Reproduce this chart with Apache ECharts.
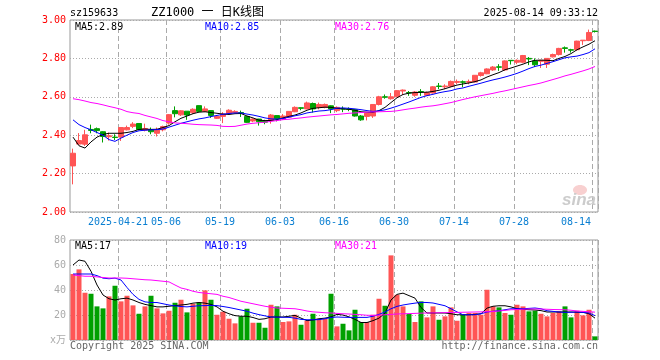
<!DOCTYPE html>
<html><head><meta charset="utf-8">
<script src="https://cdn.jsdelivr.net/npm/echarts@6/dist/echarts.min.js"></script>
<style>html,body{margin:0;padding:0;background:#fff}#c{width:660px;height:360px}</style>
</head><body><div id="c"></div>
<script>
const dates = ["2025-04-09","2025-04-10","2025-04-11","2025-04-14","2025-04-15","2025-04-16","2025-04-17","2025-04-18","2025-04-21","2025-04-22","2025-04-23","2025-04-24","2025-04-25","2025-04-28","2025-04-29","2025-04-30",
"2025-05-06","2025-05-07","2025-05-08","2025-05-09","2025-05-12","2025-05-13","2025-05-14","2025-05-15","2025-05-16","2025-05-19","2025-05-20","2025-05-21","2025-05-22","2025-05-23","2025-05-26","2025-05-27","2025-05-28","2025-05-29","2025-05-30",
"2025-06-03","2025-06-04","2025-06-05","2025-06-06","2025-06-09","2025-06-10","2025-06-11","2025-06-12","2025-06-13","2025-06-16","2025-06-17","2025-06-18","2025-06-19","2025-06-20","2025-06-23","2025-06-24","2025-06-25","2025-06-26","2025-06-27","2025-06-30",
"2025-07-01","2025-07-02","2025-07-03","2025-07-04","2025-07-07","2025-07-08","2025-07-09","2025-07-10","2025-07-11","2025-07-14","2025-07-15","2025-07-16","2025-07-17","2025-07-18","2025-07-21","2025-07-22","2025-07-23","2025-07-24","2025-07-25","2025-07-28","2025-07-29","2025-07-30","2025-07-31",
"2025-08-01","2025-08-04","2025-08-05","2025-08-06","2025-08-07","2025-08-08","2025-08-11","2025-08-12","2025-08-13","2025-08-14"];

const tickIdx = [8,16,25,35,44,54,64,74,87];
const tickText = ["2025-04-21","05-06","05-19","06-03","06-16","06-30","07-14","07-28","08-14"];

const open = [2.24,2.354,2.353,2.43,2.434,2.418,2.392,2.39,2.39,2.428,2.446,2.461,2.426,2.43,2.41,2.428,
2.463,2.528,2.506,2.525,2.517,2.554,2.524,2.528,2.488,2.498,2.512,2.517,2.518,2.498,2.474,2.484,2.473,2.477,2.502,
2.485,2.494,2.522,2.543,2.537,2.565,2.545,2.545,2.553,2.528,2.538,2.537,2.533,2.5,2.498,2.5,2.56,2.6,2.59,2.6,
2.63,2.622,2.608,2.627,2.608,2.62,2.656,2.652,2.655,2.675,2.678,2.676,2.677,2.711,2.72,2.74,2.756,2.74,2.79,2.78,2.78,2.8,2.787,
2.785,2.77,2.808,2.82,2.855,2.845,2.845,2.892,2.893,2.942];
const close = [2.306,2.372,2.402,2.425,2.424,2.393,2.397,2.388,2.44,2.44,2.458,2.43,2.435,2.418,2.428,2.445,
2.507,2.512,2.527,2.505,2.535,2.524,2.537,2.503,2.498,2.51,2.53,2.524,2.514,2.467,2.484,2.47,2.468,2.505,2.486,
2.5,2.524,2.545,2.54,2.568,2.537,2.56,2.56,2.537,2.545,2.536,2.535,2.5,2.48,2.515,2.56,2.6,2.598,2.6,2.632,
2.635,2.62,2.625,2.625,2.622,2.652,2.654,2.656,2.68,2.68,2.676,2.68,2.712,2.725,2.745,2.755,2.754,2.787,2.788,2.79,2.815,2.797,2.767,
2.79,2.8,2.82,2.852,2.852,2.843,2.89,2.895,2.935,2.94];
const low = [2.144,2.35,2.344,2.41,2.41,2.362,2.372,2.375,2.37,2.425,2.437,2.425,2.42,2.405,2.393,2.42,
2.455,2.493,2.5,2.48,2.51,2.52,2.52,2.49,2.485,2.463,2.508,2.515,2.495,2.465,2.468,2.45,2.457,2.46,2.472,
2.48,2.49,2.52,2.53,2.535,2.518,2.535,2.54,2.515,2.52,2.52,2.525,2.497,2.475,2.477,2.49,2.555,2.59,2.585,2.598,
2.61,2.605,2.6,2.605,2.605,2.617,2.64,2.64,2.65,2.665,2.65,2.665,2.675,2.705,2.718,2.735,2.735,2.735,2.768,2.77,2.775,2.765,2.755,
2.75,2.75,2.805,2.815,2.83,2.83,2.84,2.87,2.89,2.935];
const high = [2.33,2.411,2.428,2.455,2.44,2.42,2.414,2.405,2.44,2.45,2.468,2.461,2.46,2.44,2.44,2.45,
2.51,2.55,2.53,2.525,2.54,2.555,2.55,2.53,2.5,2.52,2.535,2.53,2.528,2.5,2.487,2.485,2.48,2.51,2.502,
2.51,2.525,2.55,2.545,2.575,2.57,2.57,2.565,2.555,2.55,2.55,2.545,2.535,2.505,2.515,2.56,2.605,2.612,2.62,2.635,
2.638,2.63,2.63,2.64,2.627,2.655,2.672,2.665,2.685,2.69,2.685,2.69,2.712,2.73,2.748,2.76,2.77,2.79,2.79,2.795,2.818,2.807,2.8,
2.79,2.8,2.825,2.855,2.862,2.85,2.892,2.895,2.95,2.945];

const ma5 = [2.39,2.345,2.333,2.365,2.39,2.404,2.41,2.41,2.41,2.414,2.42,2.43,2.432,2.43,2.431,2.44,
2.45,2.47,2.488,2.5,2.512,2.52,2.522,2.518,2.514,2.51,2.508,2.512,2.513,2.5,2.49,2.478,2.476,2.477,2.481,
2.49,2.498,2.505,2.516,2.53,2.54,2.543,2.546,2.545,2.54,2.537,2.535,2.53,2.522,2.52,2.519,2.528,2.545,2.57,2.595,
2.612,2.619,2.622,2.623,2.624,2.628,2.634,2.642,2.652,2.661,2.667,2.672,2.679,2.688,2.703,2.715,2.726,2.741,2.75,2.76,2.77,2.782,2.79,
2.791,2.79,2.788,2.8,2.81,2.825,2.845,2.86,2.874,2.892];
const ma10 = [2.48,2.455,2.44,2.428,2.414,2.4,2.377,2.368,2.385,2.4,2.414,2.423,2.426,2.428,2.429,2.432,
2.442,2.452,2.462,2.47,2.478,2.485,2.49,2.497,2.503,2.509,2.513,2.516,2.516,2.51,2.505,2.498,2.49,2.485,2.484,
2.487,2.494,2.501,2.507,2.516,2.521,2.526,2.528,2.533,2.541,2.542,2.54,2.537,2.533,2.528,2.524,2.527,2.532,2.541,2.551,
2.562,2.573,2.585,2.597,2.606,2.613,2.621,2.627,2.632,2.641,2.646,2.655,2.663,2.671,2.68,2.688,2.695,2.703,2.712,2.722,2.734,2.747,2.758,
2.765,2.774,2.783,2.793,2.803,2.808,2.812,2.82,2.83,2.85];
const ma30 = [2.59,2.585,2.578,2.57,2.565,2.558,2.55,2.543,2.535,2.523,2.517,2.513,2.503,2.495,2.487,2.476,
2.47,2.464,2.462,2.46,2.457,2.455,2.454,2.453,2.451,2.446,2.445,2.446,2.452,2.458,2.462,2.465,2.468,2.472,2.476,
2.481,2.483,2.487,2.49,2.494,2.497,2.5,2.503,2.506,2.508,2.511,2.514,2.516,2.518,2.52,2.521,2.522,2.523,2.524,2.527,
2.532,2.537,2.541,2.546,2.55,2.553,2.558,2.564,2.57,2.578,2.586,2.593,2.6,2.606,2.612,2.618,2.625,2.631,2.638,2.645,2.652,2.659,2.665,
2.672,2.681,2.69,2.699,2.709,2.717,2.726,2.735,2.745,2.758];

const vol = [52.8,56.5,37.8,37,26.9,25.3,34.9,43.4,30.9,35.4,
27.7,21,26.9,35.4,25.3,21.3,23.4,29.8,32.2,22.1,
29,30.1,39.7,32.2,20.2,22.6,17,13.3,18.9,25,
13.8,13.8,9.8,28.2,26.9,14.4,14.9,20.2,12.2,15.4,
21,17,17,37,10.9,13,7.7,24.2,14.4,14.4,
20.2,33,27.4,67.7,36.2,26.9,20.8,14.4,30.9,18.1,
26.9,16.2,18.9,26.1,15.4,20.2,21.6,21.6,20.2,40.2,
26.9,26.1,21.6,20.2,28.2,26.9,22.9,23.4,21,18.9,
21.6,22.9,26.9,18.1,23.4,19.7,24.2,2.9];
const vma5 = [60,64,63,55,44,36,33,32,33,33.5,32,30,28.5,27.5,26.5,26.5,
27,27.5,28,28.5,29.5,30,29.5,28.5,26.5,23,21,19.5,19,19,18,16.5,17,18.4,18.4,
18.4,19,19.7,17.5,15.5,16,17,17.5,18.5,20.5,20,18.5,16.5,14,14,15.5,17.5,21.5,32,36.5,
37.5,35.5,33.5,26,21.6,21.6,21.6,21.6,21,20.2,20.2,20.2,20.5,21,25.5,27,27.4,27.4,26.5,25,24.5,24.2,24,
23.5,22.4,22.4,22.4,22.4,22.4,22.2,22.1,21,17.5];
const vma10 = [52.8,52.8,52.8,52.8,51.5,49.5,49,49.5,48,42,36.5,32.5,30.5,30,30,29,
28,27.3,26.8,26.5,27,27.4,27.5,27.7,27.5,26.8,26,25,24,23,21.5,20.3,19.3,18.4,18.3,
18.2,18.1,17.5,16.5,16.2,16.2,16.3,17,18,18.4,18.2,18.1,18.1,18.1,18.1,19,20.5,22.4,25,26.9,
28,28.8,29.5,30.1,30,29.6,28.5,27.4,25,22.5,20.2,20.2,20.2,21,22.4,23,23.4,24.2,25,25,25,25.3,25.6,
25,23.4,22.9,22.4,22.1,22.2,22.4,22.1,21.6,19.5];
const vma30 = [52,51.5,51,51,50.5,50,49.6,49.6,49.6,49.4,49,48.6,48.2,48,47.5,47,
46.5,44,41.6,40.5,39,38,37.5,37,36.5,35,34,32.5,31,30,29,28,27,26.2,25.6,
25.4,25.2,25,24.2,23.2,22.5,22.2,21.8,21.6,21.3,21,20.8,20.5,20.2,19.8,19.7,19.9,20.2,20.5,20.8,
21,21.1,21.3,21.5,21.6,21.7,21.8,21.9,22,22.1,22.2,22.3,22.4,22.5,22.6,22.8,23.2,23.7,24.2,24.4,24.6,24.8,24.8,
24.8,24.6,24.4,24.3,24.2,23.8,23.2,22.9,22.6,22.3];

const UP = '#ff5555', DOWN = '#00a000';
const MONO = "'DejaVu Sans Mono','Noto Sans CJK SC',monospace";
const candles = dates.map((d,i)=>[open[i],close[i],low[i],high[i]]);
const isTick = (i)=>tickIdx.indexOf(i)>=0;
const vSplit = {show:true, interval:(i)=>isTick(i), lineStyle:{color:'#aaaaaa', type:[5,3], width:1}};
const hSplit = {show:true, lineStyle:{color:'#aaaaaa', type:[1,2], width:1}};

const chart = echarts.init(document.getElementById('c'), null, {renderer:'canvas'});
const lineS = (name, data, color, xi, yi)=>({name, type:'line', data, xAxisIndex:xi, yAxisIndex:yi, symbol:'none', smooth:false,
  lineStyle:{color, width:1}, itemStyle:{color}, z:5, silent:true});

chart.setOption({
  animation:false,
  backgroundColor:'#fff',
  grid:[
    {left:70, right:62, top:20, height:192, show:true, borderColor:'#999', borderWidth:1, backgroundColor:'transparent'},
    {left:70, right:62, top:240, height:100, show:true, borderColor:'#999', borderWidth:1, backgroundColor:'transparent'}
  ],
  xAxis:[
    {type:'category', gridIndex:0, data:dates, boundaryGap:true,
     axisLine:{show:false}, axisTick:{show:false}, splitLine:vSplit,
     axisLabel:{interval:(i)=>isTick(i), margin:5,
       formatter:(v,i)=>{const k=tickIdx.indexOf(i); if(k<0) return ''; return (i===dates.length-1?'{e|':'{n|')+tickText[k]+'}';},
       rich:{n:{padding:[0,6,0,0], color:'#0a7fd2', fontFamily:MONO, fontSize:10},
             e:{padding:[0,38,0,0], color:'#0a7fd2', fontFamily:MONO, fontSize:10}}}},
    {type:'category', gridIndex:1, data:dates, boundaryGap:true,
     axisLine:{show:false}, axisTick:{show:false}, axisLabel:{show:false}, splitLine:vSplit}
  ],
  yAxis:[
    {type:'value', gridIndex:0, min:2, max:3, interval:0.2, axisLine:{show:false}, axisTick:{show:false},
     axisLabel:{formatter:(v)=>v.toFixed(2), color:'#ff0000', fontFamily:MONO, fontSize:10, margin:4},
     splitLine:hSplit},
    {type:'value', gridIndex:1, min:0, max:80, interval:20, axisLine:{show:false}, axisTick:{show:false},
     axisLabel:{formatter:(v)=>v===0?'x万':String(v), color:'#aaaaaa', fontFamily:MONO, fontSize:10, margin:4},
     splitLine:hSplit}
  ],
  series:[
    {type:'candlestick', data:candles, xAxisIndex:0, yAxisIndex:0, barWidth:5, z:3,
     itemStyle:{color:UP, color0:DOWN, borderColor:UP, borderColor0:DOWN, borderWidth:1}},
    lineS('MA5', ma5, '#000000', 0, 0),
    lineS('MA10', ma10, '#0000ff', 0, 0),
    lineS('MA30', ma30, '#ff00ff', 0, 0),
    {type:'bar', data:vol.map((v,i)=>({value:v, itemStyle:{color: close[i]>=open[i]?UP:DOWN}})),
     xAxisIndex:1, yAxisIndex:1, barWidth:5, z:3},
    lineS('VMA5', vma5, '#000000', 1, 1),
    lineS('VMA10', vma10, '#0000ff', 1, 1),
    lineS('VMA30', vma30, '#ff00ff', 1, 1)
  ],
  graphic:[
    {type:'text', z:10, style:{x:70, y:13, text:'sz159633', fill:'#000', font:'10px '+MONO, textVerticalAlign:'middle'}},
    {type:'text', z:10, style:{x:151, y:13, text:'ZZ1000 一 日K线图', fill:'#000', font:'12px '+MONO, textVerticalAlign:'middle'}},
    {type:'text', z:10, style:{x:598, y:13, text:'2025-08-14 09:33:12', fill:'#000', font:'10px '+MONO, textAlign:'right', textVerticalAlign:'middle'}},
    {type:'text', z:10, style:{x:75, y:27, text:'MA5:2.89', fill:'#000', font:'10px '+MONO, textVerticalAlign:'middle'}},
    {type:'text', z:10, style:{x:205, y:27, text:'MA10:2.85', fill:'#0000ff', font:'10px '+MONO, textVerticalAlign:'middle'}},
    {type:'text', z:10, style:{x:335, y:27, text:'MA30:2.76', fill:'#ff00ff', font:'10px '+MONO, textVerticalAlign:'middle'}},
    {type:'text', z:10, style:{x:75, y:246, text:'MA5:17', fill:'#000', font:'10px '+MONO, textVerticalAlign:'middle'}},
    {type:'text', z:10, style:{x:205, y:246, text:'MA10:19', fill:'#0000ff', font:'10px '+MONO, textVerticalAlign:'middle'}},
    {type:'text', z:10, style:{x:335, y:246, text:'MA30:21', fill:'#ff00ff', font:'10px '+MONO, textVerticalAlign:'middle'}},
    {type:'text', z:10, style:{x:70, y:346, text:'Copyright 2025 SINA.COM', fill:'#666', font:'10px '+MONO, textVerticalAlign:'middle'}},
    {type:'text', z:10, style:{x:598, y:346, text:'http://finance.sina.com.cn', fill:'#666', font:'10px '+MONO, textAlign:'right', textVerticalAlign:'middle'}},
    {type:'ellipse', z:1, shape:{cx:580, cy:190, rx:7, ry:5}, style:{fill:'#f8d0d0'}},
    {type:'text', z:1, style:{x:596, y:200, text:'sina', fill:'#cccccc', font:'italic bold 17px Liberation Sans', textAlign:'right', textVerticalAlign:'middle'}}
  ]
});
</script></body></html>
